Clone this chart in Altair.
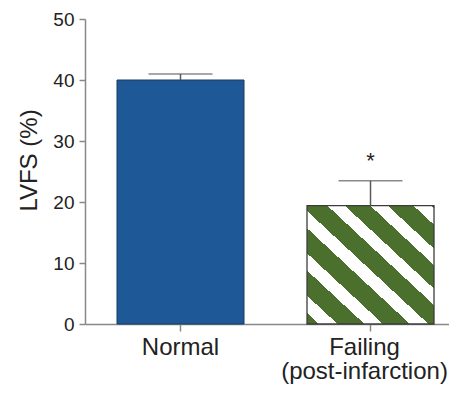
import altair as alt
import pandas as pd

# ---- data ----
groups = ["Normal", "Failing (post-infarction)"]
means = [40.0, 19.4]
errors = [1.0, 4.1]
y_ticks = [0, 10, 20, 30, 40, 50]
star_group = "Failing (post-infarction)"

df = pd.DataFrame({"group": groups, "mean": means, "err": errors})

FONT = "Liberation Sans"
BLUE = "#1e5896"
GREEN = "#4b6f2d"
WHITE = "#ffffff"

# hatch pattern emulated with a hard-stop linear gradient (diagonal "\" stripes)
white_bands = [(0.047, 0.120), (0.226, 0.299), (0.405, 0.478),
               (0.580, 0.649), (0.749, 0.818), (0.919, 0.988)]
stops = [{"offset": 0, "color": GREEN}]
for a, b in white_bands:
    stops += [{"offset": a, "color": GREEN}, {"offset": a, "color": WHITE},
              {"offset": b, "color": WHITE}, {"offset": b, "color": GREEN}]
stops.append({"offset": 1, "color": GREEN})
hatch = {"gradient": "linear", "x1": 0, "y1": 1, "x2": 1, "y2": 0, "stops": stops}

x_enc = alt.X(
    "group:N", sort=groups, title=None,
    scale=alt.Scale(paddingInner=0.3316, paddingOuter=0.1237, align=0.681),
    axis=alt.Axis(labelAngle=0, labelExpr="split(datum.value, ' ')",
                  labelFontSize=24, labelLineHeight=24.5, labelLimit=0,
                  labelOffset={"condition": {"test": "datum.value == 'Normal'", "value": 0},
                               "value": -6},
                  labelOverlap=False, labelBound=False, tickSize=7, labelPadding=4,
                  labelColor="#222", labelFont=FONT,
                  domainColor="#888", domainWidth=1.5, tickColor="#888", tickWidth=1.5),
)

y_axis = alt.Axis(values=y_ticks, title="LVFS (%)", tickSize=6, labelPadding=5,
                  labelFontSize=19, labelColor="#222", labelFont=FONT,
                  titleFontSize=24, titleFontWeight="normal", titleColor="#222",
                  titleFont=FONT, titleX=-56, titleY=141, titleAngle=270,
                  titleAlign="center", titleBaseline="middle",
                  domainColor="#888", domainWidth=1.5, tickColor="#888", tickWidth=1.5)
y_scale = alt.Scale(domain=[0, 50], nice=False)

base = alt.Chart(df).encode(x=x_enc)

bar_normal = base.transform_filter(alt.datum.group == "Normal").mark_bar(
    fill=BLUE, stroke="#1b3a60", strokeWidth=1
).encode(y=alt.Y("mean:Q", scale=y_scale, axis=y_axis))

bar_fail = base.transform_filter(alt.datum.group != "Normal").mark_bar(
    fill=hatch, stroke="#3c3c3c", strokeWidth=1.3
).encode(y=alt.Y("mean:Q", scale=y_scale, axis=y_axis))

with_upper = base.transform_calculate(upper="datum.mean + datum.err")

err_rule = with_upper.mark_rule(color="#5a5a5a", strokeWidth=1.5).encode(
    y=alt.Y("mean:Q", scale=y_scale, axis=y_axis), y2="upper:Q"
)
err_cap = with_upper.mark_tick(color="#5a5a5a", thickness=1.5, size=64,
                               orient="horizontal").encode(
    y=alt.Y("upper:Q", scale=y_scale, axis=y_axis)
)
star = with_upper.transform_filter(alt.datum.group == star_group).mark_text(
    text="*", fontSize=22, font=FONT, color="#222", baseline="alphabetic", dy=-13
).encode(y=alt.Y("upper:Q", scale=y_scale, axis=y_axis))

chart = alt.layer(bar_normal, bar_fail, err_rule, err_cap, star).properties(
    width=364, height=305,
    padding={"left": 77, "top": 11, "right": 0, "bottom": 62},
    autosize=alt.AutoSizeParams(type="none"),
    background="white",
).configure_view(stroke=None).configure_axis(grid=False)

chart.save("out.html", embed_options={"renderer": "svg", "actions": False})
